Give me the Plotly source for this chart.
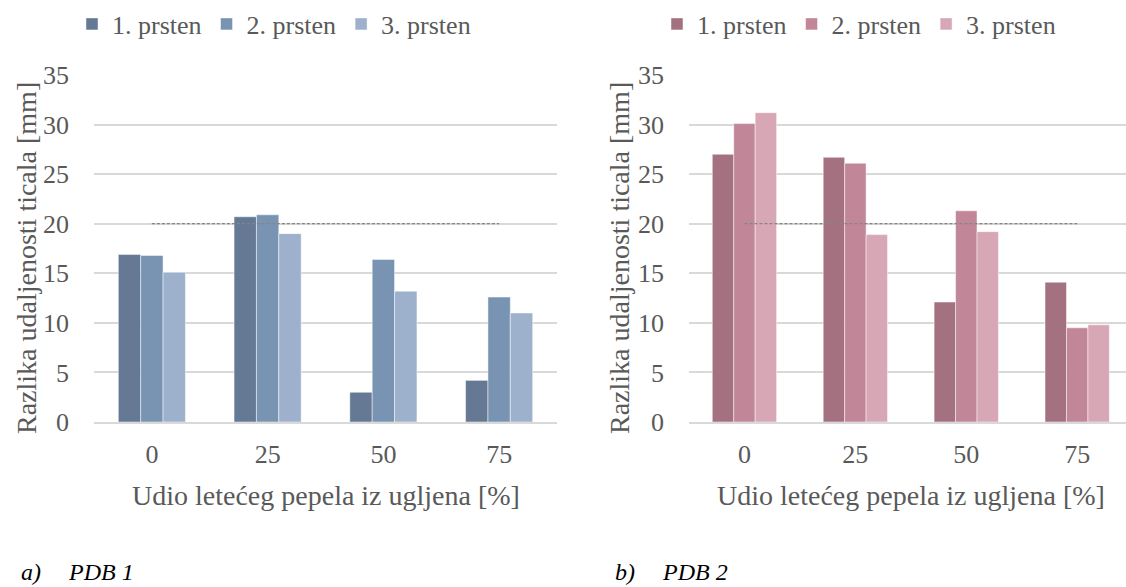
import plotly.graph_objects as go

categories = ["0", "25", "50", "75"]
series_names = ["1. prsten", "2. prsten", "3. prsten"]

pdb1_values = [
    [16.9, 20.7, 3.0, 4.2],
    [16.8, 20.9, 16.4, 12.6],
    [15.1, 19.0, 13.2, 11.0],
]
pdb2_values = [
    [27.0, 26.7, 12.1, 14.1],
    [30.1, 26.1, 21.3, 9.5],
    [31.2, 18.9, 19.2, 9.8],
]
reference_line_x = ["0", "75"]
reference_line_y = [20, 20]

y_ticks = [0, 5, 10, 15, 20, 25, 30, 35]

blue_colors = ["#657995", "#7894b2", "#9db1cd"]
pink_colors = ["#a3717f", "#c18798", "#d8a7b6"]

FONT = "Times New Roman"
TXT = "#595959"

W, H = 1126, 587

fig = go.Figure()

for i, name in enumerate(series_names):
    fig.add_trace(go.Bar(
        x=categories, y=pdb1_values[i], name=name,
        marker=dict(color=blue_colors[i], line=dict(color="rgba(255,255,255,0.6)", width=0.8)),
        xaxis="x", yaxis="y", legend="legend",
    ))
fig.add_trace(go.Scatter(
    x=reference_line_x, y=reference_line_y, mode="lines",
    line=dict(color="#858585", width=1.2, dash="3px,2px"),
    showlegend=False, xaxis="x", yaxis="y", hoverinfo="skip",
))

for i, name in enumerate(series_names):
    fig.add_trace(go.Bar(
        x=categories, y=pdb2_values[i], name=name,
        marker=dict(color=pink_colors[i], line=dict(color="rgba(255,255,255,0.6)", width=0.8)),
        xaxis="x2", yaxis="y2", legend="legend2",
    ))
fig.add_trace(go.Scatter(
    x=reference_line_x, y=reference_line_y, mode="lines",
    line=dict(color="#858585", width=1.2, dash="3px,2px"),
    showlegend=False, xaxis="x2", yaxis="y2", hoverinfo="skip",
))

y_dom = [(H - 422) / H, (H - 75) / H]

common_x = dict(
    type="category", showgrid=False, showline=True, linecolor="#d9d9d9", linewidth=1.5,
    ticks="", tickfont=dict(family=FONT, size=26, color=TXT), ticklabelstandoff=8,
    zeroline=False,
)
common_y = dict(
    range=[0, 35], tickvals=y_ticks, showgrid=True, gridcolor="#d9d9d9", gridwidth=1.5,
    showline=False, zeroline=False, ticks="",
    tickfont=dict(family=FONT, size=26, color=TXT), ticklabelstandoff=24,
)

leg_common = dict(
    orientation="h", xanchor="left", y=1 - 24 / H, yanchor="middle",
    font=dict(family=FONT, size=26, color=TXT),
    bgcolor="rgba(0,0,0,0)", itemclick=False, itemdoubleclick=False,
)

fig.update_layout(
    width=W, height=H,
    margin=dict(l=0, r=0, t=0, b=0, autoexpand=False),
    paper_bgcolor="white", plot_bgcolor="white",
    barmode="group", bargap=0.42, bargroupgap=0,
    showlegend=True,
    xaxis=dict(domain=[94 / W, 557 / W], anchor="y", range=[-0.5, 3.5], **common_x),
    yaxis=dict(domain=y_dom, anchor="x", **common_y),
    xaxis2=dict(domain=[689 / W, 1.0], anchor="y2", range=[-0.5, 3.44], **common_x),
    yaxis2=dict(domain=y_dom, anchor="x2", **common_y),
    legend=dict(x=72 / W, **leg_common),
    legend2=dict(x=657 / W, **leg_common),
    annotations=[
        dict(text="Razlika udaljenosti ticala [mm]", x=26 / W, y=1 - 258 / H, xref="paper", yref="paper",
             textangle=-90, showarrow=False, font=dict(family=FONT, size=28, color=TXT),
             xanchor="center", yanchor="middle"),
        dict(text="Razlika udaljenosti ticala [mm]", x=619 / W, y=1 - 258 / H, xref="paper", yref="paper",
             textangle=-90, showarrow=False, font=dict(family=FONT, size=28, color=TXT),
             xanchor="center", yanchor="middle"),
        dict(text="Udio letećeg pepela iz ugljena [%]", x=(94 + 557) / 2 / W, y=1 - 495 / H,
             xref="paper", yref="paper", showarrow=False, font=dict(family=FONT, size=28, color=TXT),
             xanchor="center", yanchor="middle"),
        dict(text="Udio letećeg pepela iz ugljena [%]", x=(689 + 1132) / 2 / W, y=1 - 495 / H,
             xref="paper", yref="paper", showarrow=False, font=dict(family=FONT, size=28, color=TXT),
             xanchor="center", yanchor="middle"),
        dict(text="<i>a)</i>", x=19 / W, y=1 - 572 / H, xref="paper", yref="paper", showarrow=False,
             font=dict(family=FONT, size=24, color="black"), xanchor="left", yanchor="middle"),
        dict(text="<i>PDB 1</i>", x=66 / W, y=1 - 572 / H, xref="paper", yref="paper", showarrow=False,
             font=dict(family=FONT, size=24, color="black"), xanchor="left", yanchor="middle"),
        dict(text="<i>b)</i>", x=613 / W, y=1 - 572 / H, xref="paper", yref="paper", showarrow=False,
             font=dict(family=FONT, size=24, color="black"), xanchor="left", yanchor="middle"),
        dict(text="<i>PDB 2</i>", x=660 / W, y=1 - 572 / H, xref="paper", yref="paper", showarrow=False,
             font=dict(family=FONT, size=24, color="black"), xanchor="left", yanchor="middle"),
    ],
)

fig.write_html("out.html")
